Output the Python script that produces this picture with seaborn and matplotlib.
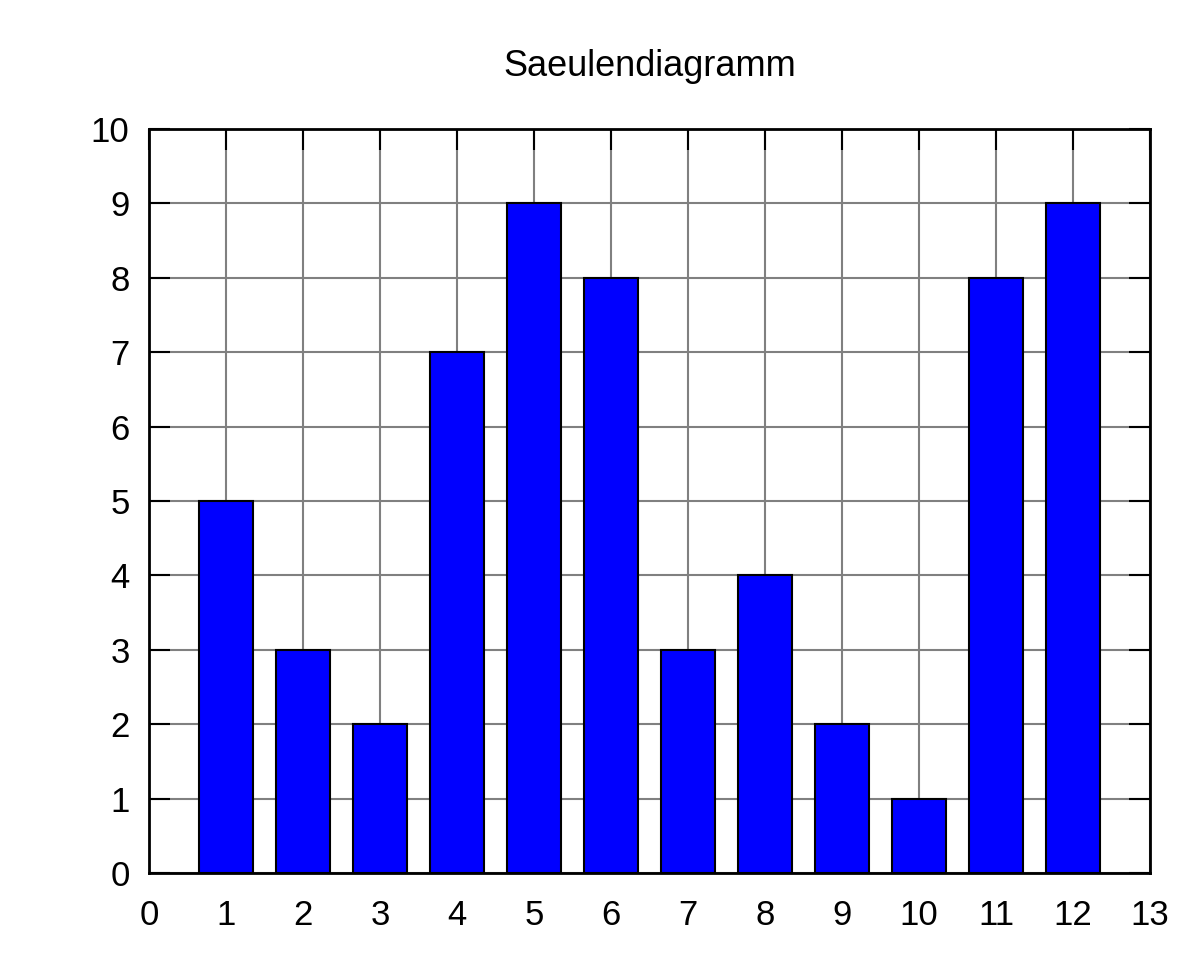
import matplotlib
matplotlib.use("Agg")
import matplotlib.pyplot as plt
import seaborn as sns
import pandas as pd

positions = [1, 2, 3, 4, 5, 6, 7, 8, 9, 10, 11, 12]
values = [5, 3, 2, 7, 9, 8, 3, 4, 2, 1, 8, 9]
x_ticks = list(range(0, 14))
y_ticks = list(range(0, 11))
title = "Saeulendiagramm"

sns.set_theme(style="white")
plt.rcParams['font.family'] = ['Liberation Sans', 'DejaVu Sans']
plt.rcParams['text.color'] = 'black'
plt.rcParams['xtick.labelcolor'] = 'black'
plt.rcParams['ytick.labelcolor'] = 'black'

df = pd.DataFrame({"x": positions, "y": values})

fig = plt.figure(figsize=(12, 9.6), dpi=100)
ax = fig.add_axes([149/1200, 1-873/960, (1150-149)/1200, (873-129)/960])

sns.barplot(data=df, x="x", y="y", native_scale=True, width=0.7,
            color="#0000ff", saturation=1, edgecolor="black", linewidth=1.5,
            ax=ax, zorder=3)

ax.set_xlim(0, 13)
ax.set_ylim(0, 10)
ax.set_xticks(x_ticks)
ax.set_yticks(y_ticks)
ax.set_xticklabels([str(t) for t in x_ticks])
ax.set_yticklabels([str(t) for t in y_ticks])
ax.set_xlabel("")
ax.set_ylabel("")

ax.grid(True, color="#808080", linewidth=1.5, zorder=0)
ax.set_axisbelow(True)

for s in ax.spines.values():
    s.set_visible(True)
    s.set_color("black")
    s.set_linewidth(2)
    s.set_zorder(5)

ax.tick_params(axis="x", which="major", direction="in", length=15, width=1.5,
               color="black", top=True, bottom=False, labelbottom=True,
               labelsize=25, labelcolor="black", pad=19)
ax.tick_params(axis="y", which="major", direction="in", length=15, width=1.5,
               color="black", left=True, right=True, labelleft=True,
               labelsize=25, labelcolor="black", pad=14)

ax.set_title(title, fontsize=26, pad=38, color="black")

fig.savefig("out.png", dpi=100)
